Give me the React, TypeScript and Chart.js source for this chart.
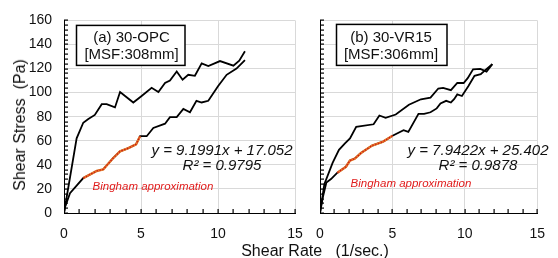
import React, { useEffect, useRef } from "react";
import { Chart, registerables } from "chart.js";

Chart.register(...registerables);

const FONT = "'Liberation Sans', Arial, sans-serif";

// Panel (a) 30-OPC
const upXa = [0, 0.82, 1.25, 1.58, 2.0, 2.45, 2.77, 3.31, 3.64, 4.5, 5.04, 5.69, 6.13, 6.56, 6.88, 7.32, 7.7, 8.07, 8.5, 8.94, 9.37, 10.13, 11.0, 11.38, 11.75];
const upYa = [0, 62, 75, 78, 81.5, 90.4, 90.4, 87.7, 100.5, 91.8, 97.2, 104, 100.5, 108, 110, 117.5, 110.7, 114.8, 114, 124.3, 122, 126.2, 122.4, 126.5, 134.3];
const downXa = [11.75, 11.2, 10.56, 10.0, 9.37, 8.94, 8.6, 8.18, 7.75, 7.32, 6.88, 6.56, 5.8, 5.37, 4.94, 4.68, 4.18, 3.64, 3.2, 2.55, 2.12, 1.25, 0.82, 0.39, 0.07, 0];
const downYa = [127, 120, 114.8, 105.3, 93.2, 91.8, 93.2, 83.7, 86.4, 79.6, 79.6, 74.2, 70.7, 63.8, 63.8, 57.1, 53.9, 51.2, 45.7, 36.3, 34.9, 29, 22.7, 16.5, 5, 0];
const binXa = [1.25, 2.12, 2.55, 3.2, 3.64, 4.18, 4.68, 4.94];
const binYa = [29, 34.9, 36.3, 45.7, 51.2, 53.9, 57.1, 63.8];

// Panel (b) 30-VR15
const upXb = [0, 0.3, 0.87, 1.31, 1.74, 2.07, 2.5, 3.7, 4.1, 4.53, 5.23, 6.14, 6.97, 7.63, 8.17, 8.5, 9.04, 9.48, 9.92, 10.2, 10.57, 11.07, 11.5, 11.9];
const upYb = [0, 24, 41.7, 52.5, 58, 62, 71.5, 73.7, 81, 79, 81.8, 89.9, 94.5, 95.9, 103.4, 104, 102, 108, 108, 112, 119.4, 119.7, 117.5, 123.7];
const downXb = [11.9, 11.55, 11.1, 10.67, 10.24, 9.8, 9.48, 9.26, 9.04, 8.71, 8.32, 8.06, 7.63, 7.19, 6.8, 6.1, 5.77, 5.01, 4.36, 3.6, 2.83, 2.4, 2.07, 1.79, 1.2, 0.76, 0.44, 0.2, 0];
const downYb = [123.7, 120.2, 115.4, 114, 105.3, 97.2, 98.5, 94.5, 91.8, 93.2, 91, 86.9, 83.7, 82.3, 82.3, 67.4, 68.8, 64.2, 59.3, 56, 49.8, 45.2, 43.6, 38.4, 33.5, 28.2, 25.4, 13.2, 0];
const binXb = [1.2, 1.79, 2.07, 2.4, 2.83, 3.6, 4.36, 5.01];
const binYb = [33.5, 38.4, 43.6, 45.2, 49.8, 56, 59.3, 64.2];

const xTicksMax = 15;
const yTicksMax = 160;

const labelA = ["(a) 30-OPC", "[MSF:308mm]"];
const labelB = ["(b) 30-VR15", "[MSF:306mm]"];
const eqA = ["y = 9.1991x + 17.052", "R² = 0.9795"];
const eqB = ["y = 7.9422x + 25.402", "R² = 0.9878"];
const binText = "Bingham approximation";

const pts = (xs: number[], ys: number[]) => xs.map((x, i) => ({ x, y: ys[i] }));

type PanelProps = {
  left: number;
  width: number;
  yAxisWidth: number;
  padRight: number;
  showYLabels: boolean;
  upX: number[]; upY: number[]; downX: number[]; downY: number[]; binX: number[]; binY: number[];
  label: string[];
  eq: string[];
  box: { x: number; y: number; w: number; h: number; cx: number };
  eqPos: { cx: number; y: number };
  binPos: { cx: number; y: number };
};

function Panel(p: PanelProps) {
  const ref = useRef<HTMLCanvasElement | null>(null);
  useEffect(() => {
    const canvas = ref.current!;
    const annot = {
      id: "annot",
      afterDraw(chart: any) {
        const ctx = chart.ctx as CanvasRenderingContext2D;
        const xs = chart.scales.x;
        const ys = chart.scales.y;
        const ca = chart.chartArea;
        ctx.save();
        ctx.setLineDash([]);
        // minor ticks (inside the plot)
        ctx.fillStyle = "#000";
        const bottom = Math.round(ca.bottom);
        const left = Math.round(ca.left);
        for (let v = 1; v <= xTicksMax; v++) {
          const px = Math.round(xs.getPixelForValue(v));
          ctx.fillRect(px - 0.5, bottom - 4, 1.2, 4);
        }
        for (let v = 0; v <= yTicksMax; v += 4) {
          const py = Math.round(ys.getPixelForValue(v));
          ctx.fillRect(left, py - 0.5, 4, 1.2);
        }
        // label box
        const bx = ca.left + p.box.x;
        const by = ca.top + p.box.y;
        ctx.fillStyle = "#fff";
        ctx.fillRect(bx, by, p.box.w, p.box.h);
        ctx.strokeStyle = "#000";
        ctx.lineWidth = 1.5;
        ctx.strokeRect(bx, by, p.box.w, p.box.h);
        ctx.fillStyle = "#111";
        ctx.font = `15px ${FONT}`;
        ctx.textAlign = "center";
        ctx.textBaseline = "middle";
        ctx.fillText(p.label[0], ca.left + p.box.cx, ca.top + 17);
        ctx.fillText(p.label[1], ca.left + p.box.cx, ca.top + 34);
        // equation
        ctx.font = `italic 15px ${FONT}`;
        ctx.fillText(p.eq[0], ca.left + p.eqPos.cx, ca.top + p.eqPos.y);
        ctx.fillText(p.eq[1], ca.left + p.eqPos.cx, ca.top + p.eqPos.y + 15);
        // bingham
        ctx.fillStyle = "#e01b1b";
        ctx.font = `italic 11.5px ${FONT}`;
        ctx.fillText(binText, ca.left + p.binPos.cx, ca.top + p.binPos.y);
        ctx.restore();
      },
    };
    const chart = new Chart(canvas, {
      type: "scatter",
      data: {
        datasets: [
          { data: pts(p.binX, p.binY), showLine: true, borderColor: "#c81414", borderWidth: 1.2, borderDash: [1.5, 1.5], pointRadius: 0, tension: 0, order: 0 },
          { data: pts(p.binX, p.binY), showLine: true, borderColor: "#e8792a", borderWidth: 2.4, pointRadius: 0, tension: 0, order: 1 },
          { data: pts(p.upX, p.upY), showLine: true, borderColor: "#000", borderWidth: 1.8, pointRadius: 0, tension: 0, order: 2 },
          { data: pts(p.downX, p.downY), showLine: true, borderColor: "#000", borderWidth: 1.8, pointRadius: 0, tension: 0, order: 3 },
        ],
      },
      options: {
        responsive: false,
        animation: false,
        devicePixelRatio: 1,
        layout: { padding: { top: 16, right: p.padRight, left: 0, bottom: 0 } },
        plugins: { legend: { display: false }, tooltip: { enabled: false }, title: { display: false } },
        scales: {
          x: {
            type: "linear",
            min: 0,
            max: xTicksMax,
            ticks: { stepSize: 5, color: "#111", font: { size: 14, family: FONT }, padding: 13, maxRotation: 0 },
            grid: { color: "#d9d9d9", lineWidth: 1, drawTicks: false },
            border: { color: "#000", width: 1 },
            afterFit: (s: any) => { s.height = 45; },
          },
          y: {
            type: "linear",
            min: 0,
            max: yTicksMax,
            ticks: {
              stepSize: 20,
              color: "#111",
              font: { size: 14, family: FONT },
              padding: 12,
              callback: (v: any) => (p.showYLabels ? String(v) : ""),
            },
            grid: { color: "#d9d9d9", lineWidth: 1, drawTicks: false },
            border: { color: "#000", width: 1 },
            afterFit: (s: any) => { s.width = p.yAxisWidth; },
          },
        },
      },
      plugins: [annot],
    } as any);
    return () => chart.destroy();
  }, []);
  return (
    <canvas
      ref={ref}
      width={p.width}
      height={258}
      style={{ position: "absolute", left: p.left, top: 0, width: p.width, height: 258 }}
    />
  );
}

export default function App() {
  return (
    <div style={{ position: "fixed", left: 0, top: 0, width: 558, height: 258, background: "#fff", overflow: "hidden", fontFamily: FONT }}>
      <Panel
        left={0}
        width={320}
        yAxisWidth={64}
        padRight={25}
        showYLabels={true}
        upX={upXa} upY={upYa} downX={downXa} downY={downYa} binX={binXa} binY={binYa}
        label={labelA}
        eq={eqA}
        box={{ x: 12.5, y: 5, w: 108.5, h: 40, cx: 67.5 }}
        eqPos={{ cx: 158, y: 130 }}
        binPos={{ cx: 89, y: 166 }}
      />
      <Panel
        left={300}
        width={258}
        yAxisWidth={20}
        padRight={8}
        showYLabels={false}
        upX={upXb} upY={upYb} downX={downXb} downY={downYb} binX={binXb} binY={binYb}
        label={labelB}
        eq={eqB}
        box={{ x: 16.5, y: 4, w: 110.5, h: 41, cx: 71 }}
        eqPos={{ cx: 158, y: 130 }}
        binPos={{ cx: 91, y: 163 }}
      />
      <div style={{ position: "absolute", left: 19.5, top: 125, transform: "translate(-50%,-50%) rotate(-90deg)", whiteSpace: "pre", fontSize: 16, color: "#111", lineHeight: "18px" }}>
        {"Shear Stress  (Pa)"}
      </div>
      <div style={{ position: "absolute", left: 315, top: 251, transform: "translate(-50%,-50%)", whiteSpace: "pre", fontSize: 16, color: "#111", lineHeight: "18px" }}>
        {"Shear Rate   (1/sec.)"}
      </div>
    </div>
  );
}
